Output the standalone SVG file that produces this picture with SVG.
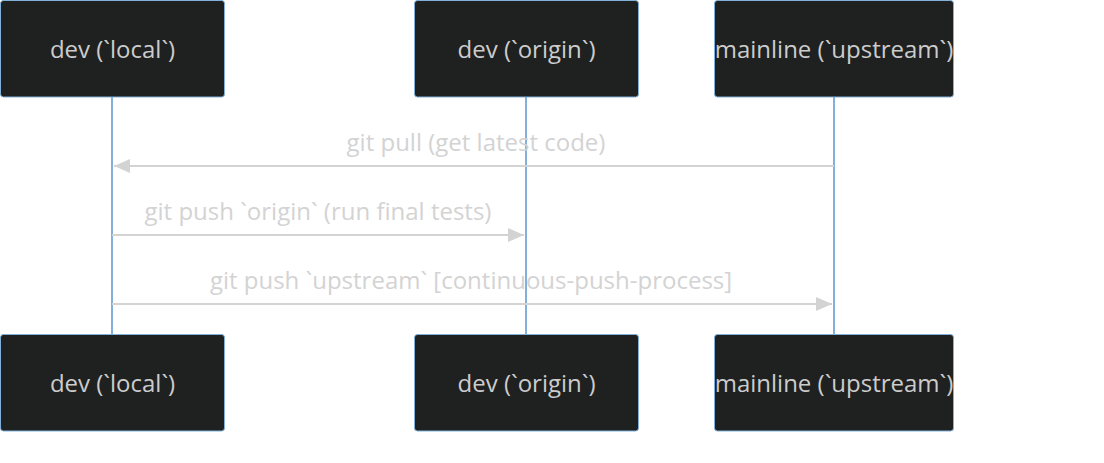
<svg xmlns="http://www.w3.org/2000/svg" width="1104" height="463" viewBox="0 0 1104 463">
<style>
.actor{fill:#1f2020;stroke:#81b1db;stroke-width:1}
.atext{fill:#cccccc;font-family:"Open Sans",sans-serif;font-size:24px;text-anchor:middle;dominant-baseline:central}
.life{stroke:#81b1db;stroke-width:2}
.msg{stroke:#d3d3d3;stroke-width:2;fill:none}
.mtext{fill:#d3d3d3;font-family:"Open Sans",sans-serif;font-size:24px;text-anchor:middle;dominant-baseline:central}
</style>
<defs>
<marker id="arrow" viewBox="0 0 16 14" refX="16" refY="7" markerWidth="16" markerHeight="14" markerUnits="userSpaceOnUse" orient="auto-start-reverse">
<path d="M0,0 L16,7 L0,14 z" fill="#d3d3d3"/>
</marker>
</defs>
<g id="lifelines">
<line class="life" x1="112" y1="97" x2="112" y2="334"/>
<line class="life" x1="526" y1="97" x2="526" y2="334"/>
<line class="life" x1="834" y1="97" x2="834" y2="334"/>
</g>
<g id="local-top"><rect class="actor" x="0.5" y="0.5" width="224" height="96.5" rx="3"/><text class="atext" x="112.5" y="48">dev (`local`)</text></g>
<g id="origin-top"><rect class="actor" x="414.5" y="0.5" width="224" height="96.5" rx="3"/><text class="atext" x="526.5" y="48">dev (`origin`)</text></g>
<g id="upstream-top"><rect class="actor" x="714.5" y="0.5" width="239" height="96.5" rx="3"/><text class="atext" x="834" y="48">mainline (`upstream`)</text></g>
<g id="local-bottom"><rect class="actor" x="0.5" y="334.5" width="224" height="96.5" rx="3"/><text class="atext" x="112.5" y="382">dev (`local`)</text></g>
<g id="origin-bottom"><rect class="actor" x="414.5" y="334.5" width="224" height="96.5" rx="3"/><text class="atext" x="526.5" y="382">dev (`origin`)</text></g>
<g id="upstream-bottom"><rect class="actor" x="714.5" y="334.5" width="239" height="96.5" rx="3"/><text class="atext" x="834" y="382">mainline (`upstream`)</text></g>
<g id="connectors">
<line class="msg" x1="834" y1="166" x2="114" y2="166" marker-end="url(#arrow)"/>
<text class="mtext" x="476" y="141">git pull (get latest code)</text>
<line class="msg" x1="112" y1="235" x2="524" y2="235" marker-end="url(#arrow)"/>
<text class="mtext" x="318" y="210">git push `origin` (run final tests)</text>
<line class="msg" x1="112" y1="304" x2="832" y2="304" marker-end="url(#arrow)"/>
<text class="mtext" x="471" y="279">git push `upstream` [continuous-push-process]</text>
</g>
</svg>
